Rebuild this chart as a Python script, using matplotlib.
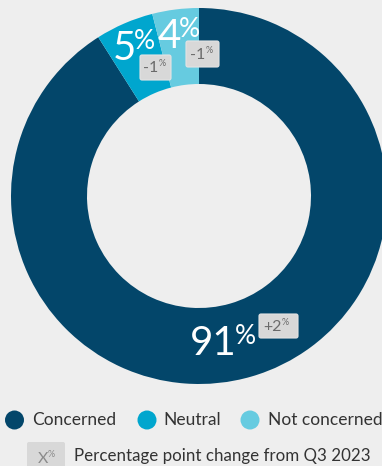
import matplotlib.pyplot as plt
from matplotlib.patches import FancyBboxPatch, Circle

# data
labels = ['Concerned', 'Neutral', 'Not concerned']
shares = [91, 5, 4]
changes = ['+2', '-1', '-1']
colors = ['#03466a', '#00a6ce', '#66cbe0']

W, H = 382, 466
bg = '#eeeeee'
plt.rcParams['font.family'] = ['Lato', 'DejaVu Sans']

fig = plt.figure(figsize=(W / 100, H / 100), dpi=100, facecolor=bg)
ax = fig.add_axes([0, 0, 1, 1])
ax.set_xlim(0, W)
ax.set_ylim(0, H)
ax.set_aspect('equal')
ax.axis('off')
ax.set_facecolor(bg)


def Y(y):
    # image pixel row -> data y
    return H - y


# donut, 12 o'clock, clockwise
ax.pie(shares, colors=colors, startangle=90, counterclock=False,
       center=(199, Y(196)), radius=188, frame=True,
       wedgeprops=dict(width=76, linewidth=0))
ax.set_xlim(0, W)
ax.set_ylim(0, H)
ax.axis('off')

# big value labels (x of number end, baseline y in px)
big_pos = [(236, 355), (135, 60), (180, 48)]
# change boxes (x0, y0, x1, y1 in px)
box_pos = [(259, 314, 298, 338), (140, 55, 171, 80), (186, 41, 219, 67)]

for v, ch, (bx, by), (x0, y0, x1, y1) in zip(shares, changes, big_pos, box_pos):
    ax.text(bx + 1, Y(by), str(v), color='white', fontsize=29, ha='right',
            va='baseline')
    ax.text(bx - 1, Y(by - 11), '%', color='white', fontsize=19, ha='left',
            va='baseline')
    ax.add_patch(FancyBboxPatch((x0 + 2, Y(y1) + 2), x1 - x0 - 4, y1 - y0 - 4,
                                boxstyle='round,pad=2', fc='#d8d8d8',
                                ec='#e4e4e4', lw=0.8, zorder=3))
    cx = (x0 + x1) / 2 + 3
    cy = (y0 + y1) / 2 + 5
    ax.text(cx, Y(cy), ch, color='#6a6a6a', fontsize=11.5, ha='right',
            va='baseline', zorder=4)
    ax.text(cx, Y(cy - 6), '%', color='#6a6a6a', fontsize=6.5, ha='left',
            va='baseline', zorder=4)

# legend row 1
leg_circle_x = [14.5, 147, 250]
leg_text_x = [32, 163, 268]
for c, lab, lx, tx in zip(colors, labels, leg_circle_x, leg_text_x):
    ax.add_patch(Circle((lx, Y(420)), 9.5, fc=c, ec='none'))
    ax.text(tx, Y(420), lab, color='#333333', fontsize=12.5, ha='left',
            va='center')

# legend row 2
ax.add_patch(FancyBboxPatch((29, Y(470) + 2), 34, 24,
                            boxstyle='round,pad=2', fc='#d8d8d8',
                            ec='none', zorder=3))
ax.text(48, Y(463), 'X', color='#8a8a8a', fontsize=11.5, ha='right',
        va='baseline', zorder=4)
ax.text(48, Y(457), '%', color='#8a8a8a', fontsize=6.5, ha='left',
        va='baseline', zorder=4)
ax.text(74, Y(456), 'Percentage point change from Q3 2023', color='#333333',
        fontsize=12.2, ha='left', va='center')

fig.savefig('out.png', dpi=100, facecolor=bg)
